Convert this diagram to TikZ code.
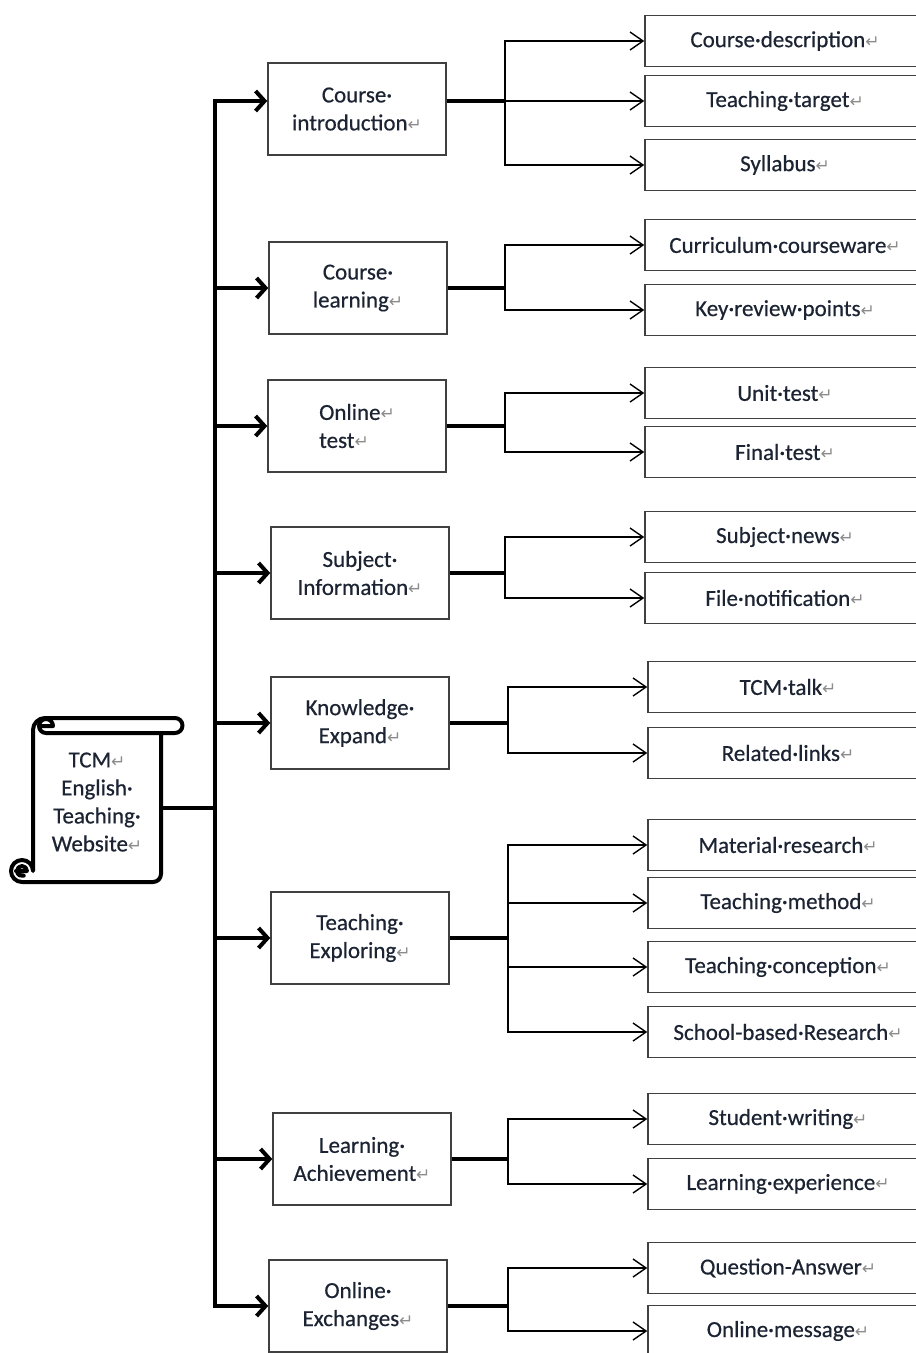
\documentclass[tikz,border=0pt]{standalone}
\usepackage{fontspec}
\setmainfont{Carlito}[FakeBold=0.5]
\newfontfamily\markfont{DejaVu Sans}
\usetikzlibrary{arrows.meta,positioning,calc}
\definecolor{boxgray}{HTML}{404040}
\definecolor{inkblue}{HTML}{1C2433}
\definecolor{markgray}{HTML}{8C8C8C}
\newcommand{\retmark}{{\markfont\color{markgray}\fontsize{17}{17}\selectfont ↵}}
\newcommand{\labelsize}{\fontsize{23}{28}\selectfont}

\tikzset{
  midbox/.style={draw=boxgray, line width=1.5pt, minimum width=178pt, minimum height=92pt,
                 align=center, font=\labelsize, text=inkblue},
  subbox/.style={draw=boxgray, line width=1.5pt, minimum width=280pt, minimum height=51pt,
                 font=\labelsize, text=inkblue},
  trunk/.style={line width=4pt, -{Straight Barb[length=9pt,width=20pt]}},
  feed/.style={line width=3.5pt},
  branch/.style={line width=1.4pt, -{Straight Barb[length=13pt,width=18pt]}},
  scrollline/.style={line width=4pt, line join=round, line cap=round}
}

\begin{document}
\begin{tikzpicture}[x=1pt, y=1pt]
    \useasboundingbox (0,0) rectangle (916,-1353);

    % Scroll with the site name
    \draw[scrollline, fill=white] (33,-871) -- (33,-730) arc[start angle=180, end angle=90, radius=12]
        -- (175,-718) arc[start angle=90, end angle=-90, radius=7.5] -- (161,-733)
        -- (161,-874) arc[start angle=0, end angle=-90, radius=8] -- (22,-882)
        arc[start angle=270, end angle=0, radius=11] -- cycle;
    \draw[scrollline] (161,-733) -- (46,-733) arc[start angle=270, end angle=0, radius=7] -- (42,-726);
    \draw[scrollline] (16,-871) -- (27,-871) arc[start angle=0, end angle=290, radius=5];
    \node[align=center, font=\labelsize, text=inkblue] (site) at (97,-802)
        {TCM\retmark\\English·\\Teaching·\\Website\retmark};
    \coordinate (scrollR) at (161,-808);
    \coordinate (hub) at (215,-808);

    % Sections
    \node[midbox] (m1) at (357,-109) {Course·\\introduction\retmark};
    \node[midbox] (m2) at (358,-288) {Course·\\learning\retmark};
    \node[midbox, align=left] (m3) at (357,-426) {Online\retmark\\test\retmark};
    \node[midbox] (m4) at (360,-573) {Subject·\\Information\retmark};
    \node[midbox] (m5) at (360,-723) {Knowledge·\\Expand\retmark};
    \node[midbox] (m6) at (360,-938) {Teaching·\\Exploring\retmark};
    \node[midbox] (m7) at (362,-1159) {Learning·\\Achievement\retmark};
    \node[midbox] (m8) at (358,-1306) {Online·\\Exchanges\retmark};

    % Pages
    \node[subbox] (r11) at (785,-41) {Course·description\retmark};
    \node[subbox] (r12) at (785,-101) {Teaching·target\retmark};
    \node[subbox] (r13) at (785,-165) {Syllabus\retmark};
    \node[subbox] (r21) at (785,-245) {Curriculum·courseware\retmark};
    \node[subbox] (r22) at (785,-310) {Key·review·points\retmark};
    \node[subbox] (r31) at (785,-393) {Unit·test\retmark};
    \node[subbox] (r32) at (785,-452) {Final·test\retmark};
    \node[subbox] (r41) at (785,-537) {Subject·news\retmark};
    \node[subbox] (r42) at (785,-598) {File·notification\retmark};
    \node[subbox] (r51) at (788,-687) {TCM·talk\retmark};
    \node[subbox] (r52) at (788,-753) {Related·links\retmark};
    \node[subbox] (r61) at (788,-845) {Material·research\retmark};
    \node[subbox] (r62) at (788,-903) {Teaching·method\retmark};
    \node[subbox] (r63) at (788,-967) {Teaching·conception\retmark};
    \node[subbox] (r64) at (788,-1032) {School-based·Research\retmark};
    \node[subbox] (r71) at (788,-1119) {Student·writing\retmark};
    \node[subbox] (r72) at (788,-1184) {Learning·experience\retmark};
    \node[subbox] (r81) at (788,-1268) {Question-Answer\retmark};
    \node[subbox] (r82) at (788,-1331) {Online·message\retmark};

    % Branch points
    \coordinate (b1) at (505,-101);
    \coordinate (b2) at (505,-288);
    \coordinate (b3) at (505,-426);
    \coordinate (b4) at (505,-573);
    \coordinate (b5) at (508,-723);
    \coordinate (b6) at (508,-938);
    \coordinate (b7) at (508,-1159);
    \coordinate (b8) at (508,-1306);

    % Trunk
    \draw[feed] (scrollR) -- (hub);
    \draw[trunk] (hub) |- ([yshift=8pt]m1.west);
    \foreach \i in {2,...,8} {
        \draw[trunk] (hub) |- (m\i.west);
    }

    % Feeds and branches
    \draw[feed] ([yshift=8pt]m1.east) -- (b1);
    \foreach \i in {2,...,8} {
        \draw[feed] (m\i.east) -- (b\i);
    }
    \foreach \g/\n in {1/3, 2/2, 3/2, 4/2, 5/2, 6/4, 7/2, 8/2} {
        \foreach \k in {1,...,\n} {
            \draw[branch] (b\g) |- (r\g\k.west);
        }
    }
\end{tikzpicture}
\end{document}
